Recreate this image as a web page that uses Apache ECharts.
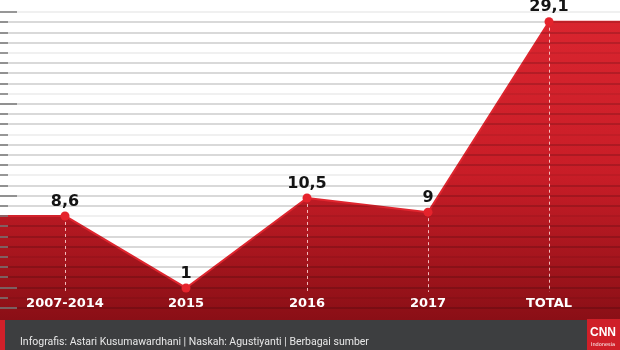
<!DOCTYPE html>
<html>
<head>
<meta charset="utf-8">
<script src="https://cdn.jsdelivr.net/npm/echarts@6/dist/echarts.min.js"></script>
<style>html,body{margin:0;padding:0;background:#fff;}#c{width:620px;height:350px;}</style>
</head>
<body>
<div id="c"></div>
<script>
const categories = ['2007-2014', '2015', '2016', '2017', 'TOTAL'];
const values = [8.6, 1, 10.5, 9, 29.1];
const valueLabels = ['8,6', '1', '10,5', '9', '29,1'];
const footerText = 'Infografis: Astari Kusumawardhani | Naskah: Agustiyanti | Berbagai sumber';

const X_MIN = -65 / 121, X_MAX = 555 / 121;
const Y_MIN = -2.38, Y_MAX = 31.39;
const DASH_END = 0.58;

const areaData = [[X_MIN, values[0]]]
  .concat(values.map((v, i) => [i, v]))
  .concat([[X_MAX, values[values.length - 1]]]);
const pointData = values.map((v, i) => ({ value: [i, v], label: { formatter: valueLabels[i] } }));
const dashData = values.map((v, i) => [{ coord: [i, v] }, { coord: [i, DASH_END] }]);

const chart = echarts.init(document.getElementById('c'), null, { renderer: 'canvas' });
chart.setOption({
  animation: false,
  backgroundColor: '#fff',
  grid: [
    { left: 0, right: 0, top: 0, height: 320 },
    { left: 4.5, width: 605, top: 0, height: 296 },
    { left: 0, right: 0, top: 12, height: 295.8 }
  ],
  xAxis: [
    { gridIndex: 0, type: 'value', min: X_MIN, max: X_MAX, show: false },
    { gridIndex: 1, type: 'category', data: categories, boundaryGap: true, z: 10,
      axisLine: { show: false }, axisTick: { show: false }, splitLine: { show: false },
      axisLabel: { color: '#fff', fontFamily: 'DejaVu Sans', fontWeight: 'bold', fontSize: 13, margin: 1 } },
    { gridIndex: 2, type: 'value', min: 0, max: 1, show: false }
  ],
  yAxis: [
    { gridIndex: 0, type: 'value', min: Y_MIN, max: Y_MAX, show: false },
    { gridIndex: 1, type: 'value', min: 0, max: 1, show: false },
    { gridIndex: 2, type: 'value', min: 0, max: 29, interval: 1, inverse: true, z: 5,
      axisLine: { show: false }, axisLabel: { show: false },
      axisTick: { show: true, inside: true, length: 8, lineStyle: { color: '#7a7a7a', width: 1.5 } },
      splitLine: { show: true, lineStyle: { width: 1.5, color: ['rgba(0,0,0,0.08)', 'rgba(0,0,0,0.2)', 'rgba(0,0,0,0.2)', 'rgba(0,0,0,0.2)'] } } },
    { gridIndex: 2, type: 'value', min: 0, max: 29, interval: 9, inverse: true, z: 5, position: 'left',
      axisLine: { show: false }, axisLabel: { show: false }, splitLine: { show: false },
      axisTick: { show: true, inside: true, length: 17, lineStyle: { color: '#7a7a7a', width: 1.5 } } }
  ],
  series: [
    {
      type: 'line', xAxisIndex: 0, yAxisIndex: 0, data: areaData, showSymbol: false, symbol: 'none', z: 2,
      lineStyle: { color: '#e0262f', width: 2 },
      areaStyle: {
        origin: 'start',
        opacity: 1,
        color: new echarts.graphic.LinearGradient(0, 0, 0, 320, [
          { offset: 0, color: '#dc2630' },
          { offset: 0.55, color: '#c81d27' },
          { offset: 1, color: '#8a0f16' }
        ], true)
      }
    },
    {
      type: 'scatter', xAxisIndex: 0, yAxisIndex: 0, data: pointData, z: 8,
      symbol: 'circle', symbolSize: 9,
      itemStyle: { color: '#e5232c', opacity: 1 },
      label: { show: true, position: 'top', distance: 2, color: '#141414', fontFamily: 'DejaVu Sans', fontWeight: 'bold', fontSize: 16 },
      markLine: {
        silent: true, symbol: 'none', label: { show: false },
        lineStyle: { color: 'rgba(255,215,215,0.85)', type: [3, 3], width: 1 },
        data: dashData
      }
    }
  ],
  graphic: [
    { type: 'rect', shape: { x: 0, y: 320, width: 620, height: 30 }, style: { fill: '#3d3e40' }, z: 20 },
    { type: 'rect', shape: { x: 0, y: 320, width: 5, height: 30 }, style: { fill: '#d1202a' }, z: 21 },
    { type: 'rect', shape: { x: 587, y: 319, width: 33, height: 31 }, style: { fill: '#cf1f28' }, z: 21 },
    { type: 'text', x: 603, y: 333, style: { text: 'CNN', fill: '#fff', font: 'bold 12px "Liberation Sans"', align: 'center', verticalAlign: 'middle' }, z: 22 },
    { type: 'text', x: 603, y: 345, style: { text: 'Indonesia', fill: '#fff', font: '5px "DejaVu Sans"', align: 'center', verticalAlign: 'middle' }, z: 22 },
    { type: 'text', x: 20, y: 342, style: { text: footerText, fill: '#e8e8e8', font: '10.5px Roboto', align: 'left', verticalAlign: 'middle' }, z: 22 }
  ]
});
</script>
</body>
</html>
